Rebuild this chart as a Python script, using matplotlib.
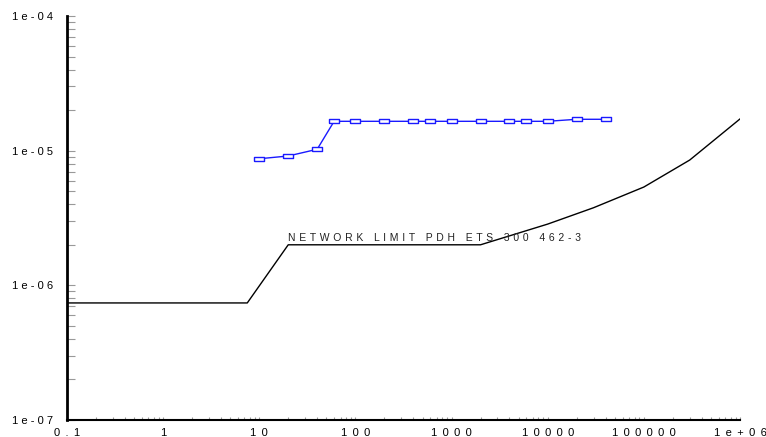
import matplotlib
matplotlib.use("Agg")
import matplotlib.pyplot as plt
from matplotlib.ticker import FixedLocator, FixedFormatter, LogLocator, NullFormatter

# Data
limit_x = [0.1, 7.5, 20, 2000, 10000, 30000, 100000, 300000, 1000000]
limit_y = [7.4e-7, 7.4e-7, 2.0e-6, 2.0e-6, 2.85e-6, 3.77e-6, 5.37e-6, 8.52e-6, 1.72e-5]

meas_x = [10, 20, 40, 60, 100, 200, 400, 600, 1000, 2000, 4000, 6000, 10000, 20000, 40000]
meas_y = [8.71e-6, 9.13e-6, 1.024e-5, 1.652e-5, 1.652e-5, 1.652e-5, 1.652e-5, 1.652e-5,
          1.652e-5, 1.652e-5, 1.652e-5, 1.652e-5, 1.652e-5, 1.71e-5, 1.71e-5]

x_ticks = [0.1, 1, 10, 100, 1000, 10000, 100000, 1000000]
x_labels = ["0.1", "1", "10", "100", "1000", "10000", "100000", "1e+06"]
y_ticks = [1e-7, 1e-6, 1e-5, 1e-4]
y_labels = ["1e-07", "1e-06", "1e-05", "1e-04"]
annotation = "NETWORK LIMIT PDH ETS 300 462-3"


def spaced(s, sep=" \u2009"):
    return sep.join(s)


plt.rcParams['font.family'] = ['Liberation Sans', 'DejaVu Sans']

fig = plt.figure(figsize=(7.66, 4.37), dpi=100)
ax = fig.add_axes([67 / 766, 17 / 437, 673 / 766, 404 / 437])
ax.set_xscale('log')
ax.set_yscale('log')
ax.set_xlim(0.1, 1e6)
ax.set_ylim(1e-7, 1e-4)

ax.plot(limit_x, limit_y, color='black', linewidth=1.0)

rect = [(-1, -0.55), (1, -0.55), (1, 0.55), (-1, 0.55), (-1, -0.55)]
ax.plot(meas_x, meas_y, color='#1a1aff', linewidth=1.0, marker=rect,
        markersize=6.5, markerfacecolor='white', markeredgecolor='#1a1aff',
        markeredgewidth=1.0)

words = annotation.split(" ")
ann_text = "   \u2009".join(spaced(w, " \u200a") for w in words)
ax.text(20, 2.0e-6 * 1.04, ann_text, fontsize=7.5,
        ha='left', va='bottom', color='#222222')

for s in ['top', 'right']:
    ax.spines[s].set_visible(False)
ax.spines['left'].set_linewidth(2.0)
ax.spines['bottom'].set_linewidth(1.5)

ax.xaxis.set_major_locator(FixedLocator(x_ticks))
ax.xaxis.set_major_formatter(FixedFormatter([spaced(l) for l in x_labels]))
ax.xaxis.set_minor_locator(LogLocator(base=10, subs=range(2, 10), numticks=20))
ax.xaxis.set_minor_formatter(NullFormatter())
ax.yaxis.set_major_locator(FixedLocator(y_ticks))
ax.yaxis.set_major_formatter(FixedFormatter([spaced(l, " ") for l in y_labels]))
ax.yaxis.set_minor_locator(LogLocator(base=10, subs=range(2, 10), numticks=20))
ax.yaxis.set_minor_formatter(NullFormatter())

ax.tick_params(axis='x', which='both', direction='in', length=2.5, color='#999999',
               width=0.8, labelsize=8, pad=6)
ax.tick_params(axis='y', which='both', direction='in', length=6, color='#999999',
               width=0.8, labelsize=8, pad=10)

fig.savefig('out.png', dpi=100)
